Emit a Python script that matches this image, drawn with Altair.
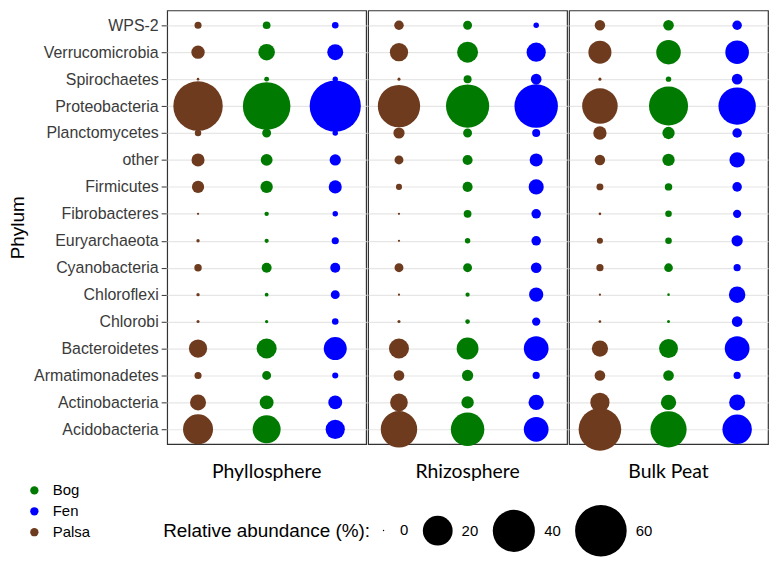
import altair as alt
import pandas as pd

phyla = ["WPS-2", "Verrucomicrobia", "Spirochaetes", "Proteobacteria", "Planctomycetes",
         "other", "Firmicutes", "Fibrobacteres", "Euryarchaeota", "Cyanobacteria",
         "Chloroflexi", "Chlorobi", "Bacteroidetes", "Armatimonadetes", "Actinobacteria",
         "Acidobacteria"]
compartments = ["Phyllosphere", "Rhizosphere", "Bulk Peat"]
sites = ["Palsa", "Bog", "Fen"]

# relative abundance (%) in phyla order above
phyllo_palsa = [1.1, 3.95, 0.1, 55.0, 0.9, 3.8, 3.3, 0.07, 0.21, 1.2, 0.21, 0.16, 7.5, 1.1, 5.7, 20.3]
phyllo_bog   = [1.3, 6.1, 0.5, 51.0, 1.75, 3.1, 3.4, 0.39, 0.36, 2.2, 0.28, 0.21, 9.0, 1.75, 4.3, 17.6]
phyllo_fen   = [0.93, 5.7, 0.6, 59.0, 0.63, 2.8, 3.8, 0.63, 1.12, 2.2, 1.75, 0.93, 11.9, 0.79, 4.3, 8.3]
rhizo_palsa  = [2.0, 7.5, 0.16, 40.4, 2.8, 1.75, 0.79, 0.07, 0.07, 1.75, 0.07, 0.16, 9.0, 2.5, 7.0, 29.9]
rhizo_bog    = [1.75, 9.85, 1.4, 42.1, 1.75, 2.24, 2.24, 1.33, 0.63, 1.75, 0.36, 0.44, 10.7, 2.8, 3.4, 25.3]
rhizo_fen    = [0.63, 8.3, 2.5, 42.6, 1.42, 3.8, 5.1, 2.0, 2.0, 2.5, 4.5, 1.52, 13.75, 1.12, 5.25, 13.75]
bulk_palsa   = [2.4, 11.9, 0.16, 28.5, 3.95, 2.4, 1.04, 0.11, 0.79, 1.12, 0.07, 0.11, 5.9, 2.5, 8.3, 40.9]
bulk_bog     = [2.5, 13.5, 0.63, 34.4, 3.4, 3.4, 1.2, 0.93, 0.93, 1.65, 0.11, 0.16, 8.0, 2.5, 5.25, 29.5]
bulk_fen     = [2.0, 12.5, 2.5, 31.4, 2.0, 5.25, 2.0, 1.5, 2.8, 1.12, 6.1, 2.5, 13.75, 1.12, 5.7, 19.5]

series = {
    ("Phyllosphere", "Palsa"): phyllo_palsa, ("Phyllosphere", "Bog"): phyllo_bog, ("Phyllosphere", "Fen"): phyllo_fen,
    ("Rhizosphere", "Palsa"): rhizo_palsa, ("Rhizosphere", "Bog"): rhizo_bog, ("Rhizosphere", "Fen"): rhizo_fen,
    ("Bulk Peat", "Palsa"): bulk_palsa, ("Bulk Peat", "Bog"): bulk_bog, ("Bulk Peat", "Fen"): bulk_fen,
}
rows = []
for (comp, site), vals in series.items():
    for p, v in zip(phyla, vals):
        rows.append({"Compartment": comp, "Site": site, "Phylum": p, "Abundance": v})
df = pd.DataFrame(rows)

base = alt.Chart(df).mark_circle(opacity=1).encode(
    x=alt.X("Site:N", sort=sites, scale=alt.Scale(type="point", padding=0.45), axis=None),
    y=alt.Y("Phylum:N", sort=phyla, scale=alt.Scale(type="point", padding=0.55),
            axis=alt.Axis(title="Phylum", titleFontSize=19, titleFontWeight="normal", titleColor="black",
                          titleFont="Liberation Sans", titlePadding=6,
                          labelFontSize=16, labelColor="#3a3a3a", labelFont="Liberation Sans",
                          tickColor="#333333", tickSize=5, labelPadding=3, domain=False,
                          grid=True, gridColor="#e6e6e6", gridWidth=1.2)),
    size=alt.Size("Abundance:Q", scale=alt.Scale(domain=[0, 60], range=[2, 2690]),
                  legend=alt.Legend(title="Relative abundance (%):", values=[0, 20, 40, 60],
                                    orient="none", legendX=-4, legendY=497, direction="horizontal",
                                    titleOrient="left", titleFontSize=19, titleFontWeight="normal",
                                    titleFont="Liberation Sans", titleColor="black", titleLimit=400,
                                    labelFontSize=15, labelFont="Liberation Sans", labelColor="black",
                                    symbolFillColor="black", symbolStrokeWidth=0, symbolOpacity=1,
                                    columnPadding=14, labelOffset=9, padding=0)),
    color=alt.Color("Site:N", scale=alt.Scale(domain=["Bog", "Fen", "Palsa"],
                                              range=["#007a00", "#0000ff", "#6e3b1e"]),
                    legend=alt.Legend(title=None, orient="none", legendX=-141, legendY=475,
                                      symbolType="circle", symbolSize=70, symbolOpacity=1,
                                      labelFontSize=15, labelFont="Liberation Sans", labelColor="black",
                                      rowPadding=5, labelOffset=11, padding=0)),
).properties(width=200, height=436)

chart = base.facet(
    column=alt.Column("Compartment:N", sort=compartments,
                      header=alt.Header(title=None, labelOrient="bottom", titleOrient="bottom",
                                        labelFontSize=19.5, labelFont="Lato", labelColor="black",
                                        labelPadding=11)),
    spacing=0,
).properties(padding={"left": 0, "top": 0, "right": 0, "bottom": 0}).configure(
    background="white"
).configure_view(stroke="#333333", strokeWidth=1.2)

chart.save("out.html", embed_options={"renderer": "svg", "actions": False})
